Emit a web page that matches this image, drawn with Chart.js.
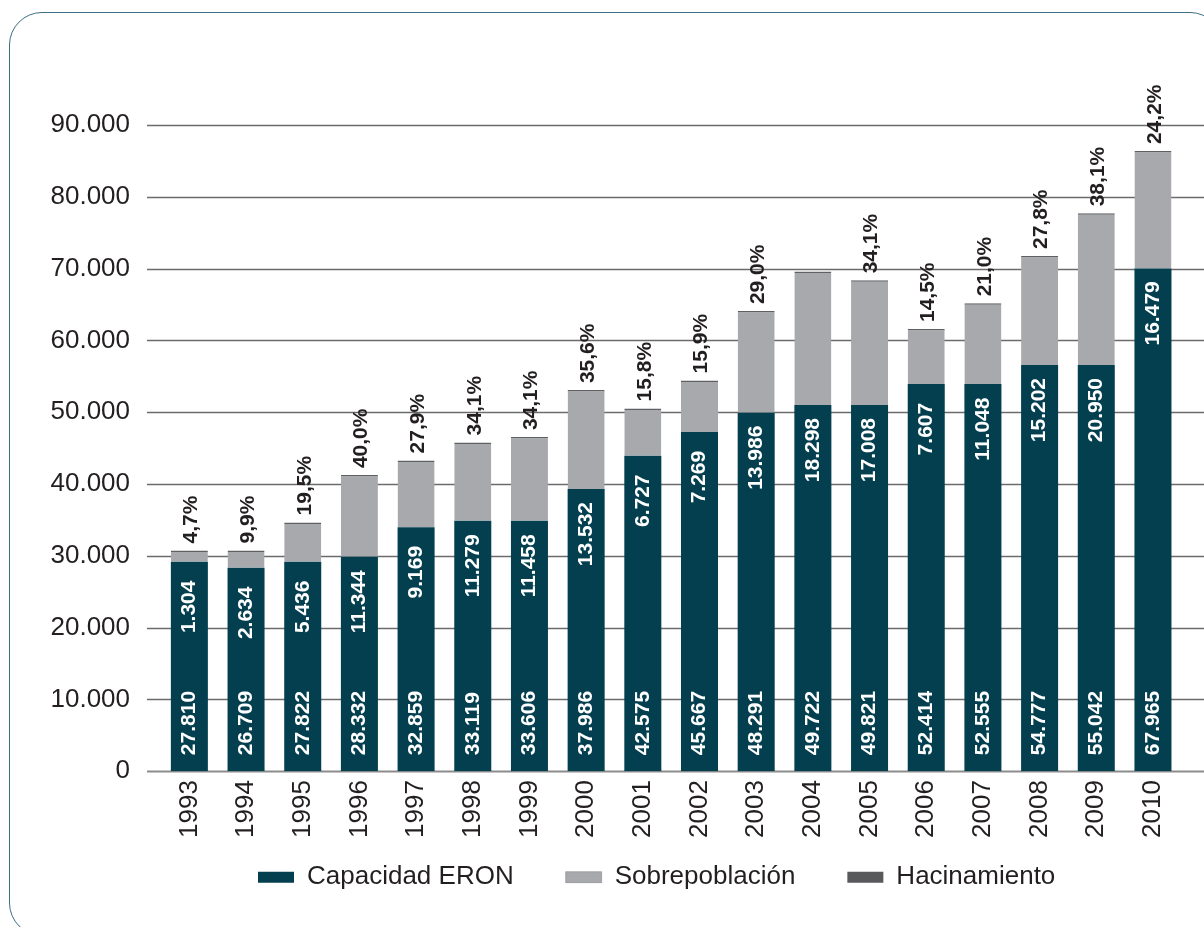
<!DOCTYPE html>
<html lang="es">
<head>
    <meta charset="UTF-8">
    <title>Capacidad ERON y sobrepoblación</title>
    <style>
        html, body {
            margin: 0;
            padding: 0;
            width: 1204px;
            height: 927px;
            overflow: hidden;
            background: #fff;
        }

        #marco {
            position: absolute;
            left: 9px;
            top: 12px;
            width: 1214px;
            height: 924px;
            border: 1.5px solid #3d6f84;
            border-radius: 33px;
            box-sizing: border-box;
        }

        #grafico {
            position: absolute;
            left: 0;
            top: 0;
        }
    </style>
</head>
<body>
    <div id="marco"></div>
    <canvas id="grafico" width="1204" height="927"></canvas>
    <script src="https://cdn.jsdelivr.net/npm/chart.js"></script>
    <script>
        const anios = ['1993', '1994', '1995', '1996', '1997', '1998', '1999', '2000', '2001',
                       '2002', '2003', '2004', '2005', '2006', '2007', '2008', '2009', '2010'];

        // altura de cada tramo tal como se ve en el gráfico
        const capacidadEron = [29160, 28320, 29160, 29860, 33990, 34870, 34870, 39290, 43930,
                               47230, 49920, 50990, 50990, 53910, 53910, 56560, 56560, 70030];
        const sobrepoblacion = [1590, 2430, 5490, 11380, 9290, 10920, 11660, 13790, 6600,
                                7200, 14160, 18620, 17370, 7670, 11250, 15190, 21140, 16340];
        const hacinamiento = [];

        // cifras impresas dentro de las barras
        const etiquetasCapacidad = ['27.810', '26.709', '27.822', '28.332', '32.859', '33.119', '33.606', '37.986', '42.575',
                                    '45.667', '48.291', '49.722', '49.821', '52.414', '52.555', '54.777', '55.042', '67.965'];
        const etiquetasSobrepoblacion = ['1.304', '2.634', '5.436', '11.344', '9.169', '11.279', '11.458', '13.532', '6.727',
                                         '7.269', '13.986', '18.298', '17.008', '7.607', '11.048', '15.202', '20.950', '16.479'];
        const porcentajes = ['4,7%', '9,9%', '19,5%', '40,0%', '27,9%', '34,1%', '34,1%', '35,6%', '15,8%',
                             '15,9%', '29,0%', '', '34,1%', '14,5%', '21,0%', '27,8%', '38,1%', '24,2%'];

        const ticksY = [0, 10000, 20000, 30000, 40000, 50000, 60000, 70000, 80000, 90000];

        const fuente = '"Liberation Sans", Arial, sans-serif';
        const colorTexto = '#231f20';

        function conPuntos(v) {
            return String(v).replace(/\B(?=(\d{3})+(?!\d))/g, '.');
        }

        // líneas de la rejilla algo más largas que el área del gráfico
        const rejilla = {
            id: 'rejilla',
            beforeDatasetsDraw(chart) {
                const { ctx, chartArea, scales } = chart;
                ctx.save();
                ticksY.forEach(v => {
                    const y = Math.round(scales.y.getPixelForValue(v)) + 0.5;
                    ctx.beginPath();
                    ctx.strokeStyle = v === 0 ? '#8c8c8c' : '#6b6b6b';
                    ctx.lineWidth = v === 0 ? 2.2 : 1.3;
                    ctx.moveTo(chartArea.left - 14, y);
                    ctx.lineTo(chart.width, y);
                    ctx.stroke();
                });
                ctx.restore();
            }
        };

        // la leyenda va centrada bajo las barras y más pegada a los años
        const posLeyenda = {
            id: 'posLeyenda',
            afterLayout(chart) {
                const l = chart.legend;
                l.left = chart.chartArea.left - 29;
                l.top = chart.chartArea.bottom + 41;
            }
        };

        function textoVertical(ctx, texto, x, y, align) {
            ctx.save();
            ctx.translate(x, y);
            ctx.rotate(-Math.PI / 2);
            ctx.textAlign = align;
            ctx.textBaseline = 'middle';
            ctx.fillText(texto, 0, 0);
            ctx.restore();
        }

        const etiquetas = {
            id: 'etiquetas',
            afterDatasetsDraw(chart) {
                const ctx = chart.ctx;
                const barrasCap = chart.getDatasetMeta(0).data;
                const barrasSob = chart.getDatasetMeta(1).data;
                ctx.save();
                ctx.font = 'bold 21px ' + fuente;
                barrasCap.forEach((b, i) => {
                    ctx.fillStyle = '#ffffff';
                    textoVertical(ctx, etiquetasCapacidad[i], b.x, b.base - 16, 'left');
                    textoVertical(ctx, etiquetasSobrepoblacion[i], b.x, b.y + 45, 'center');
                    if (porcentajes[i]) {
                        ctx.fillStyle = colorTexto;
                        textoVertical(ctx, porcentajes[i], b.x + 2, barrasSob[i].y - 7, 'left');
                    }
                });
                ctx.restore();
            }
        };

        new Chart(document.getElementById('grafico'), {
            type: 'bar',
            data: {
                labels: anios,
                datasets: [
                    {
                        label: 'Capacidad ERON',
                        data: capacidadEron,
                        backgroundColor: '#043f50'
                    },
                    {
                        label: 'Sobrepoblación',
                        data: sobrepoblacion,
                        backgroundColor: '#a7a9ac',
                        borderColor: '#5f6063',
                        borderWidth: { top: 1.5, left: 0, right: 0, bottom: 0 },
                        borderSkipped: 'start'
                    },
                    {
                        label: 'Hacinamiento',
                        data: hacinamiento,
                        backgroundColor: '#58595b'
                    }
                ]
            },
            options: {
                responsive: false,
                animation: false,
                layout: {
                    padding: { left: 19.5, right: 22.7, top: 125, bottom: 1 }
                },
                datasets: {
                    bar: {
                        categoryPercentage: 1,
                        barPercentage: 0.653
                    }
                },
                scales: {
                    x: {
                        stacked: true,
                        grid: { display: false, drawTicks: false },
                        border: { display: false },
                        ticks: {
                            autoSkip: false,
                            minRotation: 90,
                            maxRotation: 90,
                            padding: 9,
                            color: colorTexto,
                            font: { family: fuente, size: 26 }
                        }
                    },
                    y: {
                        stacked: true,
                        min: 0,
                        max: 90000,
                        grid: { display: false, drawTicks: false },
                        border: { display: false },
                        afterBuildTicks(scale) {
                            scale.ticks = ticksY.map(v => ({ value: v }));
                        },
                        ticks: {
                            padding: 31,
                            color: colorTexto,
                            font: { family: fuente, size: 26 },
                            callback: v => conPuntos(v)
                        }
                    }
                },
                plugins: {
                    legend: {
                        position: 'bottom',
                        maxHeight: 79,
                        labels: {
                            boxWidth: 36,
                            boxHeight: 11,
                            padding: 52,
                            color: colorTexto,
                            font: { family: fuente, size: 26 }
                        }
                    },
                    tooltip: { enabled: false }
                }
            },
            plugins: [rejilla, posLeyenda, etiquetas]
        });
    </script>
</body>
</html>
